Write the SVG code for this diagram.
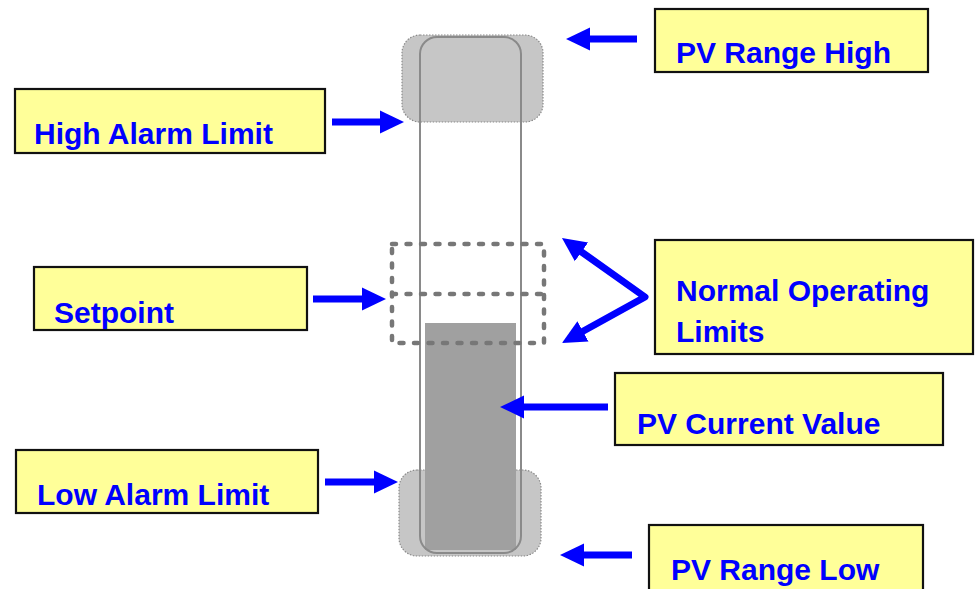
<svg xmlns="http://www.w3.org/2000/svg" width="976" height="589" viewBox="0 0 976 589">
<style>
.lbl{fill:#ffff99;stroke:#111;stroke-width:2.2}
.txt{font-family:"Liberation Sans",Arial,sans-serif;font-weight:bold;font-size:30px;fill:#0000ff}
.cap{fill:#c6c6c6;stroke:#8a8a8a;stroke-width:1.2;stroke-dasharray:1.5 1.5}
.dash{fill:none;stroke:#777;stroke-width:4.5;stroke-dasharray:4 10.5;stroke-linecap:round}
.arr{fill:none;stroke:#0000ff;stroke-width:7;stroke-linejoin:round;marker-end:url(#ah)}
</style>
<defs>
<marker id="ah" markerUnits="userSpaceOnUse" markerWidth="26" markerHeight="26" viewBox="0 -13 26 26" refX="1" refY="0" orient="auto-start-reverse">
<path d="M0,-11.5 L24,0 L0,11.5 z" fill="#0000ff"/>
</marker>
</defs>
<g id="gauge">
<rect class="cap" x="402" y="35" width="141" height="87" rx="18"/>
<rect class="cap" x="399" y="470" width="142" height="86" rx="18"/>
<rect x="425" y="323" width="91" height="227" fill="#a0a0a0"/>
<rect x="420" y="37" width="101" height="516" rx="17" fill="none" stroke="#8a8a8a" stroke-width="2"/>
<rect class="dash" x="392" y="244" width="152" height="99"/>
<line class="dash" x1="392" y1="294" x2="544" y2="294"/>
</g>
<g id="connectors">
<line class="arr" x1="637" y1="39" x2="589" y2="39"/>
<line class="arr" x1="332" y1="122" x2="381" y2="122"/>
<line class="arr" x1="313" y1="299" x2="363" y2="299"/>
<path class="arr" d="M580.7,251.3 L645,297 L582.1,331.8" style="marker-start:url(#ah)"/>
<line class="arr" x1="608" y1="407" x2="523" y2="407"/>
<line class="arr" x1="325" y1="482" x2="375" y2="482"/>
<line class="arr" x1="632" y1="555" x2="583" y2="555"/>
</g>
<g id="pv-range-high">
<rect class="lbl" x="655" y="9" width="273" height="63"/>
<text class="txt" x="676" y="63">PV Range High</text>
</g>
<g id="high-alarm-limit">
<rect class="lbl" x="15" y="89" width="310" height="64"/>
<text class="txt" x="34" y="144">High Alarm Limit</text>
</g>
<g id="setpoint">
<rect class="lbl" x="34" y="267" width="273" height="63"/>
<text class="txt" x="54" y="323">Setpoint</text>
</g>
<g id="normal-operating-limits">
<rect class="lbl" x="655" y="240" width="318" height="114"/>
<text class="txt" x="676" y="301">Normal Operating</text>
<text class="txt" x="676" y="342">Limits</text>
</g>
<g id="pv-current-value">
<rect class="lbl" x="615" y="373" width="328" height="72"/>
<text class="txt" x="637" y="434">PV Current Value</text>
</g>
<g id="low-alarm-limit">
<rect class="lbl" x="16" y="450" width="302" height="63"/>
<text class="txt" x="37" y="505">Low Alarm Limit</text>
</g>
<g id="pv-range-low">
<rect class="lbl" x="649" y="525" width="274" height="70"/>
<text class="txt" x="671" y="580">PV Range Low</text>
</g>
</svg>
